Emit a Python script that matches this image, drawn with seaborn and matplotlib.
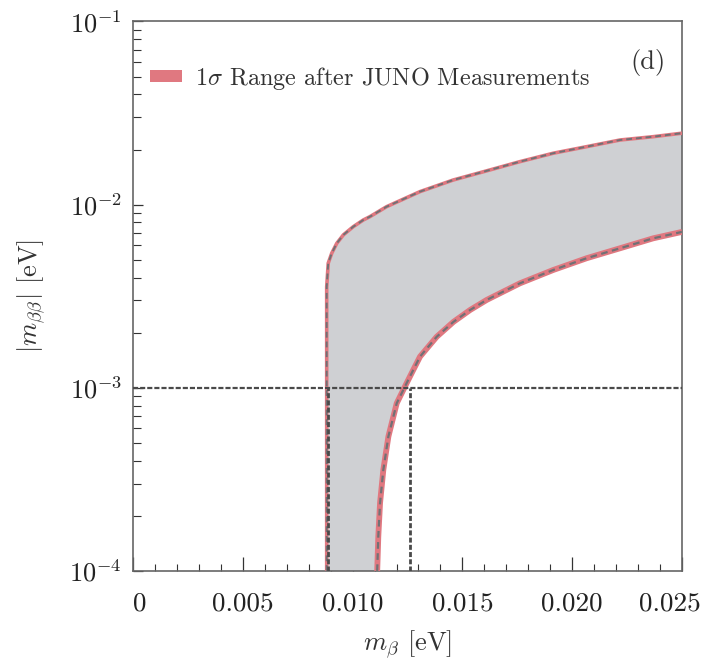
import numpy as np
import pandas as pd
import matplotlib
matplotlib.use("Agg")
import matplotlib.pyplot as plt
import matplotlib.transforms as mtransforms
import seaborn as sns
from matplotlib.patches import Patch
from matplotlib.ticker import MultipleLocator, FixedLocator, FixedFormatter, LogLocator, LogFormatterMathtext, NullFormatter

# ---- data ----
upper_x = [0.00882, 0.00882, 0.00889, 0.00905, 0.00928, 0.00958, 0.01003, 0.01049, 0.01079,
           0.01155, 0.01307, 0.01459, 0.01611, 0.01762, 0.01914, 0.02066, 0.02218, 0.02369, 0.02500]
upper_y = [1.0e-4, 3.55e-3, 4.79e-3, 5.43e-3, 6.15e-3, 6.84e-3, 7.58e-3, 8.25e-3, 8.60e-3,
           9.75e-3, 1.178e-2, 1.364e-2, 1.53e-2, 1.717e-2, 1.909e-2, 2.073e-2, 2.254e-2, 2.35e-2, 2.455e-2]

lower_x = [0.01112, 0.01117, 0.01125, 0.01140, 0.01163, 0.01201, 0.01246, 0.01276, 0.01307,
           0.01383, 0.01459, 0.01535, 0.01611, 0.01686, 0.01762, 0.01914, 0.02066, 0.02218, 0.02369, 0.02500]
lower_y = [1.0e-4, 1.54e-4, 2.35e-4, 3.57e-4, 5.42e-4, 8.24e-4, 1.06e-3, 1.25e-3, 1.48e-3,
           1.90e-3, 2.29e-3, 2.66e-3, 3.02e-3, 3.35e-3, 3.72e-3, 4.40e-3, 5.10e-3, 5.78e-3, 6.55e-3, 7.10e-3]

ref_y = 1e-3
ref_x_left = 0.00889
ref_x_right = 0.01261

x_ticks = [0, 0.005, 0.010, 0.015, 0.020, 0.025]
x_ticklabels = ["0", "0.005", "0.010", "0.015", "0.020", "0.025"]
legend_label = r"$1\sigma$ Range after JUNO Measurements"
panel_label = "(d)"

# ---- style ----
sns.set_theme(style="ticks")
plt.rcParams["font.family"] = ["cmr10", "DejaVu Serif"]
plt.rcParams["mathtext.fontset"] = "cm"
plt.rcParams["axes.formatter.use_mathtext"] = True
plt.rcParams["axes.unicode_minus"] = False

fig = plt.figure(figsize=(7.09, 6.63), dpi=100)
ax = fig.add_axes([0.1876, 0.1388, 0.9619 - 0.1876, 0.9676 - 0.1388])

fill_color = "#cfd0d3"
red = "#e07880"
dash_gray = "#717175"
ref_color = "#4a4a4a"

# band
poly_x = upper_x + lower_x[::-1]
poly_y = upper_y + lower_y[::-1]
ax.fill(poly_x, poly_y, color=fill_color, lw=0, zorder=1)

up_df = pd.DataFrame({"x": upper_x, "y": upper_y})
lo_df = pd.DataFrame({"x": lower_x, "y": lower_y})

sns.lineplot(data=up_df, x="x", y="y", ax=ax, sort=False, estimator=None,
             color=red, lw=2.6, zorder=3, solid_capstyle="butt", solid_joinstyle="round")
sns.lineplot(data=lo_df, x="x", y="y", ax=ax, sort=False, estimator=None,
             color=red, lw=4.2, zorder=3, solid_capstyle="butt", solid_joinstyle="round")
sns.lineplot(data=up_df, x="x", y="y", ax=ax, sort=False, estimator=None,
             color=dash_gray, lw=1.4, zorder=4, linestyle=(0, (3, 2)))
sns.lineplot(data=lo_df, x="x", y="y", ax=ax, sort=False, estimator=None,
             color=dash_gray, lw=1.6, zorder=4, linestyle=(0, (3, 2)))

# reference lines
ax.axhline(ref_y, color=ref_color, lw=1.6, linestyle=(0, (2.3, 0.9)), zorder=5)
ax.plot([ref_x_left, ref_x_left], [1e-4, ref_y], color=ref_color, lw=2.0,
        linestyle=(0, (1.8, 0.8)), zorder=5)
ax.plot([ref_x_right, ref_x_right], [1e-4, ref_y], color=ref_color, lw=2.0,
        linestyle=(0, (1.8, 0.8)), zorder=5)

ax.set_yscale("log")
ax.set_xlim(0, 0.025)
ax.set_ylim(1e-4, 1e-1)

ax.xaxis.set_major_locator(FixedLocator(x_ticks))
ax.xaxis.set_major_formatter(FixedFormatter(x_ticklabels))
ax.xaxis.set_minor_locator(MultipleLocator(0.001))
ax.yaxis.set_major_locator(LogLocator(base=10, numticks=10))
ax.yaxis.set_major_formatter(LogFormatterMathtext())
ax.yaxis.set_minor_locator(LogLocator(base=10, subs=np.arange(2, 10), numticks=20))
ax.yaxis.set_minor_formatter(NullFormatter())

ax.tick_params(axis="both", which="both", direction="in", colors="#333333",
               labelcolor="#222222")
ax.tick_params(axis="x", which="major", length=10, width=0.9, labelsize=19.5, pad=15)
ax.tick_params(axis="x", which="minor", length=5, width=0.8)
ax.tick_params(axis="y", which="major", length=7, width=0.9, labelsize=19, pad=8)
ax.tick_params(axis="y", which="minor", length=6, width=0.8)

for s in ax.spines.values():
    s.set_color("#666666")
    s.set_linewidth(1.2)

ax.set_xlabel(r"$m_\beta$ [eV]", fontsize=19, labelpad=9, color="#333333")
ax.set_ylabel(r"$|m_{\beta\beta}|$ [eV]", fontsize=19, labelpad=16, color="#333333")

# edge tick labels shifted inward as in the reference
fig.canvas.draw()
xlabels = ax.get_xticklabels()
xlabels[0].set_transform(xlabels[0].get_transform() +
                         mtransforms.ScaledTranslation(7 / 100, 0, fig.dpi_scale_trans))
xlabels[-1].set_transform(xlabels[-1].get_transform() +
                          mtransforms.ScaledTranslation(-12 / 100, 0, fig.dpi_scale_trans))

handle = Patch(facecolor=red, edgecolor="none")
leg = ax.legend([handle], [legend_label], loc="center left", frameon=False,
                fontsize=17.5, bbox_to_anchor=(0.031, 0.897), handlelength=1.32,
                handleheight=0.42, handletextpad=0.53, borderaxespad=0, borderpad=0)
for t in leg.get_texts():
    t.set_color("#333333")

ax.text(0.938, 0.9245, panel_label, transform=ax.transAxes, fontsize=19,
        ha="center", va="center", color="#333333")

fig.savefig("out.png", dpi=100)
